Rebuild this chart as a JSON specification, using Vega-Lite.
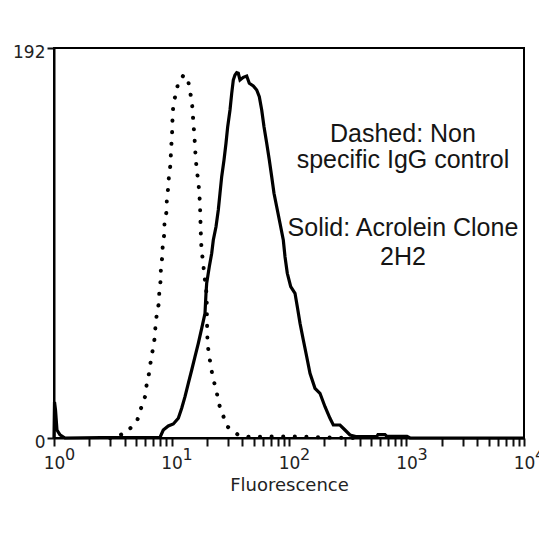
{
  "$schema": "https://vega.github.io/schema/vega-lite/v6.json",
  "width": 470,
  "height": 390,
  "autosize": {"type": "none"},
  "padding": {"left": 54, "top": 48, "right": 15, "bottom": 100},
  "background": "white",
  "config": {
    "view": {"stroke": "black", "strokeWidth": 2},
    "font": "DejaVu Sans",
    "axisX": {"ticks": true, "tickSize": 8, "tickWidth": 2, "tickColor": "#111111", "tickOpacity": 1, "domainColor": "black", "domainWidth": 2, "grid": false},
    "axisY": {"ticks": true, "tickSize": 7, "tickWidth": 2, "tickColor": "#111111", "domainColor": "black", "domainWidth": 2, "grid": false}
  },
  "datasets": {
    "control": [
      {"fluorescence": 3.0, "count": 0}, {"fluorescence": 3.42, "count": 0.64}, {"fluorescence": 4.21, "count": 3.1}, {"fluorescence": 5.12, "count": 8.86},
      {"fluorescence": 5.5, "count": 14.62}, {"fluorescence": 5.95, "count": 20.33}, {"fluorescence": 6.15, "count": 26.44}, {"fluorescence": 6.44, "count": 31.85},
      {"fluorescence": 6.65, "count": 37.56}, {"fluorescence": 6.92, "count": 43.32}, {"fluorescence": 7.2, "count": 49.38}, {"fluorescence": 7.3, "count": 54.79},
      {"fluorescence": 7.48, "count": 60.55}, {"fluorescence": 7.8, "count": 66.31}, {"fluorescence": 7.88, "count": 72.37}, {"fluorescence": 8.09, "count": 77.78},
      {"fluorescence": 8.12, "count": 83.54}, {"fluorescence": 8.35, "count": 89.25}, {"fluorescence": 8.42, "count": 95.01}, {"fluorescence": 8.68, "count": 100.43},
      {"fluorescence": 8.72, "count": 106.19}, {"fluorescence": 9.1, "count": 111.9}, {"fluorescence": 9.12, "count": 117.17}, {"fluorescence": 9.39, "count": 123.72},
      {"fluorescence": 9.52, "count": 129.47}, {"fluorescence": 9.84, "count": 135.24}, {"fluorescence": 9.88, "count": 140.95}, {"fluorescence": 10.04, "count": 146.71},
      {"fluorescence": 10.16, "count": 152.47}, {"fluorescence": 10.2, "count": 157.88}, {"fluorescence": 10.36, "count": 163.94}, {"fluorescence": 10.86, "count": 169.35},
      {"fluorescence": 11.43, "count": 174.92}, {"fluorescence": 12.53, "count": 178.21}, {"fluorescence": 13.73, "count": 177.87}, {"fluorescence": 14.17, "count": 172.16},
      {"fluorescence": 14.86, "count": 166.4}, {"fluorescence": 15.15, "count": 160.98}, {"fluorescence": 15.33, "count": 155.22}, {"fluorescence": 15.63, "count": 149.66},
      {"fluorescence": 15.85, "count": 143.75}, {"fluorescence": 16.07, "count": 137.7}, {"fluorescence": 16.39, "count": 132.28}, {"fluorescence": 16.91, "count": 126.18},
      {"fluorescence": 17.25, "count": 120.47}, {"fluorescence": 17.48, "count": 114.71}, {"fluorescence": 17.58, "count": 109.29}, {"fluorescence": 17.72, "count": 103.24},
      {"fluorescence": 17.82, "count": 97.82}, {"fluorescence": 18.07, "count": 91.72}, {"fluorescence": 18.65, "count": 86.3}, {"fluorescence": 18.91, "count": 80.74},
      {"fluorescence": 19.66, "count": 74.83}, {"fluorescence": 19.93, "count": 67.94}, {"fluorescence": 20.0, "count": 62.52}, {"fluorescence": 20.05, "count": 57.25},
      {"fluorescence": 20.17, "count": 51.84}, {"fluorescence": 20.25, "count": 46.28}, {"fluorescence": 20.97, "count": 40.37}, {"fluorescence": 21.69, "count": 34.61},
      {"fluorescence": 22.69, "count": 28.9}, {"fluorescence": 24.25, "count": 22.79}, {"fluorescence": 25.02, "count": 17.58}, {"fluorescence": 27.28, "count": 11.67},
      {"fluorescence": 29.5, "count": 5.91}, {"fluorescence": 37.03, "count": 1.48}, {"fluorescence": 46.6, "count": 0.5}, {"fluorescence": 68.9, "count": 0.7},
      {"fluorescence": 124, "count": 0.7}, {"fluorescence": 223, "count": 0.2}, {"fluorescence": 400, "count": 0}
    ],
    "acrolein": [
      {"fluorescence": 1.0, "count": 0}, {"fluorescence": 1.01, "count": 17.7}, {"fluorescence": 1.03, "count": 13.8}, {"fluorescence": 1.06, "count": 3.9},
      {"fluorescence": 1.125, "count": 1.5}, {"fluorescence": 1.24, "count": 0}, {"fluorescence": 2.5, "count": 0.25}, {"fluorescence": 7.98, "count": 0.3},
      {"fluorescence": 8.51, "count": 3.94}, {"fluorescence": 9.39, "count": 5.91}, {"fluorescence": 10.36, "count": 6.89}, {"fluorescence": 11.43, "count": 9.7},
      {"fluorescence": 12.21, "count": 14.62}, {"fluorescence": 13.03, "count": 20.33}, {"fluorescence": 13.9, "count": 26.93}, {"fluorescence": 14.86, "count": 33.48},
      {"fluorescence": 15.85, "count": 40.02}, {"fluorescence": 16.91, "count": 46.62}, {"fluorescence": 18.07, "count": 54.01}, {"fluorescence": 19.28, "count": 61.39},
      {"fluorescence": 19.66, "count": 71.24}, {"fluorescence": 19.93, "count": 76.16}, {"fluorescence": 20.97, "count": 84.33}, {"fluorescence": 21.99, "count": 90.93},
      {"fluorescence": 22.69, "count": 97.48}, {"fluorescence": 23.92, "count": 104.02}, {"fluorescence": 25.02, "count": 112.24}, {"fluorescence": 25.86, "count": 120.47},
      {"fluorescence": 26.74, "count": 128.64}, {"fluorescence": 27.98, "count": 136.86}, {"fluorescence": 29.09, "count": 145.08}, {"fluorescence": 30.08, "count": 153.25},
      {"fluorescence": 31.47, "count": 161.47}, {"fluorescence": 32.54, "count": 169.7}, {"fluorescence": 33.57, "count": 176.24}, {"fluorescence": 34.7, "count": 178.71},
      {"fluorescence": 35.88, "count": 179.84}, {"fluorescence": 37.03, "count": 179.54}, {"fluorescence": 38.28, "count": 176.24}, {"fluorescence": 40.84, "count": 177.57},
      {"fluorescence": 43.65, "count": 178.21}, {"fluorescence": 45.93, "count": 174.62}, {"fluorescence": 49.68, "count": 173.29}, {"fluorescence": 53.11, "count": 171.32},
      {"fluorescence": 55.88, "count": 168.02}, {"fluorescence": 58.58, "count": 161.47}, {"fluorescence": 61.27, "count": 153.25}, {"fluorescence": 64.61, "count": 145.08},
      {"fluorescence": 67.98, "count": 136.86}, {"fluorescence": 71.26, "count": 128.64}, {"fluorescence": 74.53, "count": 120.47}, {"fluorescence": 78.58, "count": 113.87},
      {"fluorescence": 83.82, "count": 105.7}, {"fluorescence": 89.43, "count": 97.48}, {"fluorescence": 92.47, "count": 89.25}, {"fluorescence": 96.72, "count": 81.08},
      {"fluorescence": 103.4, "count": 74.49}, {"fluorescence": 112.5, "count": 71.24}, {"fluorescence": 117.7, "count": 64.64}, {"fluorescence": 124.1, "count": 56.47},
      {"fluorescence": 132.4, "count": 48.25}, {"fluorescence": 141.5, "count": 40.02}, {"fluorescence": 150.9, "count": 31.85}, {"fluorescence": 166.4, "count": 24.47},
      {"fluorescence": 183.5, "count": 22.01}, {"fluorescence": 202.5, "count": 15.41}, {"fluorescence": 223.3, "count": 9.7}, {"fluorescence": 238.3, "count": 6.4},
      {"fluorescence": 271.6, "count": 6.4}, {"fluorescence": 299.6, "count": 3.94}, {"fluorescence": 330.4, "count": 1.48}, {"fluorescence": 376.9, "count": 0.64},
      {"fluorescence": 557.7, "count": 0.64}, {"fluorescence": 572, "count": 1.7}, {"fluorescence": 656, "count": 1.7}, {"fluorescence": 682, "count": 0.8},
      {"fluorescence": 1010, "count": 0.8}, {"fluorescence": 1071, "count": 0}, {"fluorescence": 10000, "count": 0}
    ],
    "notes": [
      {"fluorescence": 933, "count": 145.9, "label": "Dashed: Non"},
      {"fluorescence": 933, "count": 132.8, "label": "specific IgG control"},
      {"fluorescence": 933, "count": 99.4, "label": "Solid: Acrolein Clone"},
      {"fluorescence": 933, "count": 85.2, "label": "2H2"}
    ],
    "exponents": [
      {"fluorescence": 1, "count": 0, "label": "0"},
      {"fluorescence": 10, "count": 0, "label": "1"},
      {"fluorescence": 100, "count": 0, "label": "2"},
      {"fluorescence": 1000, "count": 0, "label": "3"},
      {"fluorescence": 10000, "count": 0, "label": "4"}
    ]
  },
  "encoding": {
    "x": {
      "field": "fluorescence", "type": "quantitative",
      "scale": {"type": "log", "domain": [1, 10000], "nice": false},
      "axis": {
        "title": "Fluorescence",
        "values": [1,2,3,4,5,6,7,8,9,10,20,30,40,50,60,70,80,90,100,200,300,400,500,600,700,800,900,1000,2000,3000,4000,5000,6000,7000,8000,9000,10000],
        "labelExpr": "indexof([1,10,100,1000,10000], datum.value) >= 0 ? '10' : ''",
        "labelOverlap": false, "labelBound": false, "labelFlush": false,
        "labelFont": "DejaVu Sans", "labelFontSize": 17, "labelColor": "#222", "labelPadding": 9,
        "titleFont": "DejaVu Sans", "titleFontSize": 18, "titleFontWeight": "normal", "titleColor": "#222", "titlePadding": 5
      }
    },
    "y": {
      "field": "count", "type": "quantitative",
      "scale": {"domain": [0, 192], "nice": false, "zero": true},
      "axis": {
        "title": null, "values": [0, 192],
        "labelFont": "DejaVu Sans", "labelFontSize": 17, "labelColor": "#222", "labelPadding": 2, "labelOffset": 4
      }
    }
  },
  "layer": [
    {
      "data": {"name": "control"},
      "mark": {"type": "line", "color": "black", "strokeWidth": 4, "strokeDash": [0.1, 11.5], "strokeCap": "round", "clip": false}
    },
    {
      "data": {"name": "acrolein"},
      "mark": {"type": "line", "color": "black", "strokeWidth": 3.2, "clip": false}
    },
    {
      "data": {"name": "exponents"},
      "mark": {"type": "text", "font": "DejaVu Sans", "fontSize": 16, "align": "left", "baseline": "alphabetic", "dx": 11, "dy": 22, "color": "#222", "clip": false},
      "encoding": {"text": {"field": "label"}}
    },
    {
      "data": {"name": "notes"},
      "mark": {"type": "text", "font": "Liberation Sans", "fontSize": 25, "align": "center", "baseline": "alphabetic", "color": "#151515"},
      "encoding": {"text": {"field": "label"}}
    }
  ]
}
